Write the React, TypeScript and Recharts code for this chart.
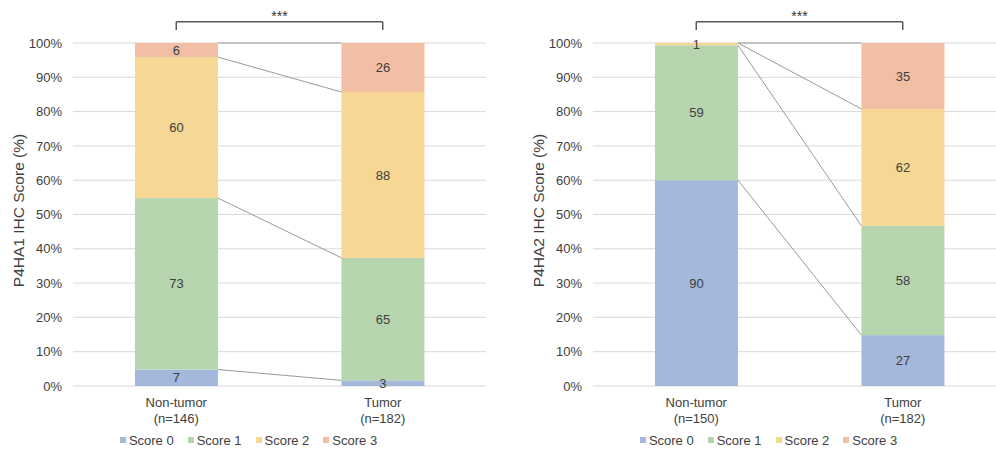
import { Bar, BarChart, CartesianGrid, LabelList, Legend, ReferenceLine, XAxis, YAxis } from 'recharts';

const groups = ['Non-tumor', 'Tumor'];
const scoreNames = ['Score 0', 'Score 1', 'Score 2', 'Score 3'];
const scoreColors = ['#a3b8db', '#b6d5af', '#f6d793', '#f2bea4'];
const percentTicks = [0, 0.1, 0.2, 0.3, 0.4, 0.5, 0.6, 0.7, 0.8, 0.9, 1];

// P4HA1 staining counts per group
const p4ha1N = [146, 182];
const p4ha1Score0 = [7, 3];
const p4ha1Score1 = [73, 65];
const p4ha1Score2 = [60, 88];
const p4ha1Score3 = [6, 26];

// P4HA2 staining counts per group
const p4ha2N = [150, 182];
const p4ha2Score0 = [90, 27];
const p4ha2Score1 = [59, 58];
const p4ha2Score2 = [1, 62];
const p4ha2Score3 = [0, 35];

const W = 498;
const H = 450;
const Y_AXIS_W = 73;
const MARGIN = { top: 43, right: 12, bottom: 0, left: 0 };
const BAND = (W - MARGIN.left - MARGIN.right - Y_AXIS_W) / groups.length;
const LEGEND_H = 24;
const X_AXIS_H = 40;
const TEXT = '#404040';

const keys = ['s0', 's1', 's2', 's3'];

function buildRows(n: number[], series: number[][]) {
  return groups.map((g, i) => {
    const row: Record<string, any> = { group: g, n: n[i] };
    series.forEach((s, k) => (row[keys[k]] = s[i]));
    return row;
  });
}

// cumulative share at the top of each score segment, per group
function segmentTops(n: number[], series: number[][]) {
  return groups.map((_, i) => {
    let acc = 0;
    return series.map((s) => {
      acc += s[i];
      return acc / n[i];
    });
  });
}

// bar segment plus the series line joining it to the same boundary on the other bar
const makeSegment = (tops: number[][], k: number) => (props: any) => {
  const { x, y, width, height, fill, index, background } = props;
  const rect = <rect x={x} y={y} width={width} height={Math.max(height || 0, 0)} fill={fill} />;
  if (index !== 1) return rect;
  const plotTop = background?.y ?? MARGIN.top;
  const plotH = background?.height ?? H - MARGIN.top - LEGEND_H - X_AXIS_H;
  const y0 = plotTop + plotH * (1 - tops[0][k]);
  return (
    <g>
      {rect}
      <line x1={x - BAND + width} y1={y0} x2={x} y2={y} stroke="#9a9a9a" strokeWidth={1} />
    </g>
  );
};

const CategoryTick = ({ x, y, payload, n }: any) => (
  <text x={x} y={y} textAnchor="middle" fill={TEXT} fontSize={13}>
    <tspan x={x} dy={13}>{payload.value}</tspan>
    <tspan x={x} dy={15.5}>(n={n[payload.index]})</tspan>
  </text>
);

const axisTitle = (text: string) => ({ viewBox }: any) => {
  const cy = viewBox.y + viewBox.height / 2 - 4;
  return (
    <text
      x={18}
      y={cy}
      transform={`rotate(-90 18 ${cy})`}
      textAnchor="middle"
      dominantBaseline="central"
      fill={TEXT}
      fontSize={15.5}
    >
      {text}
    </text>
  );
};

const LegendBox = () => (
  <div
    style={{
      display: 'flex',
      justifyContent: 'center',
      alignItems: 'center',
      height: LEGEND_H,
      fontSize: 13,
      color: TEXT,
      paddingTop: 2,
    }}
  >
    {scoreNames.map((name, i) => (
      <span key={name} style={{ display: 'flex', alignItems: 'center', marginRight: i < 3 ? 14 : 0 }}>
        <span style={{ width: 6, height: 6, background: scoreColors[i], marginRight: 3 }} />
        {name}
      </span>
    ))}
  </div>
);

const BRACKET_Y = 1.062;
const BRACKET_TICK_Y = 1.038;

function ScoreChart({ title, n, series }: { title: string; n: number[]; series: number[][] }) {
  const data = buildRows(n, series);
  const tops = segmentTops(n, series);
  return (
    <BarChart width={W} height={H} data={data} margin={MARGIN} stackOffset="expand" barCategoryGap="30%">
      <CartesianGrid vertical={false} stroke="#d9d9d9" />
      <XAxis
        dataKey="group"
        axisLine={false}
        tickLine={false}
        height={X_AXIS_H}
        interval={0}
        tick={<CategoryTick n={n} />}
      />
      <YAxis
        width={Y_AXIS_W}
        domain={[0, 1]}
        ticks={percentTicks}
        tickFormatter={(v: number) => `${Math.round(v * 100)}%`}
        axisLine={false}
        tickLine={false}
        tickMargin={5}
        tick={{ fontSize: 13, fill: TEXT }}
        label={axisTitle(title)}
      />
      <Legend
        verticalAlign="bottom"
        height={LEGEND_H}
        content={<LegendBox />}
        wrapperStyle={{ left: 0, width: 497 }}
      />
      {keys.map((key, k) => (
        <Bar
          key={key}
          dataKey={key}
          name={scoreNames[k]}
          stackId="score"
          fill={scoreColors[k]}
          isAnimationActive={false}
          shape={makeSegment(tops, k)}
        >
          <LabelList
            dataKey={key}
            position="center"
            fill={TEXT}
            fontSize={13}
            formatter={(v: any) => (v ? v : '')}
          />
        </Bar>
      ))}
      {/* significance bracket */}
      <ReferenceLine
        ifOverflow="visible"
        stroke="#595959"
        strokeWidth={1.5}
        segment={[
          { x: groups[0], y: BRACKET_Y },
          { x: groups[1], y: BRACKET_Y },
        ]}
        label={{ value: '***', position: 'top', offset: 1, fontSize: 14, fill: '#333' }}
      />
      <ReferenceLine
        ifOverflow="visible"
        stroke="#595959"
        strokeWidth={1.5}
        segment={[
          { x: groups[0], y: BRACKET_Y },
          { x: groups[0], y: BRACKET_TICK_Y },
        ]}
      />
      <ReferenceLine
        ifOverflow="visible"
        stroke="#595959"
        strokeWidth={1.5}
        segment={[
          { x: groups[1], y: BRACKET_Y },
          { x: groups[1], y: BRACKET_TICK_Y },
        ]}
      />
    </BarChart>
  );
}

export default function App() {
  return (
    <div
      style={{
        position: 'absolute',
        left: 0,
        top: 0,
        width: 996,
        height: 450,
        overflow: 'hidden',
        background: '#fff',
        fontFamily: '"Liberation Sans", Arial, sans-serif',
      }}
    >
      <div style={{ position: 'absolute', left: 0, top: 0 }}>
        <ScoreChart
          title="P4HA1 IHC Score (%)"
          n={p4ha1N}
          series={[p4ha1Score0, p4ha1Score1, p4ha1Score2, p4ha1Score3]}
        />
      </div>
      <div style={{ position: 'absolute', left: 520, top: 0 }}>
        <ScoreChart
          title="P4HA2 IHC Score (%)"
          n={p4ha2N}
          series={[p4ha2Score0, p4ha2Score1, p4ha2Score2, p4ha2Score3]}
        />
      </div>
    </div>
  );
}
